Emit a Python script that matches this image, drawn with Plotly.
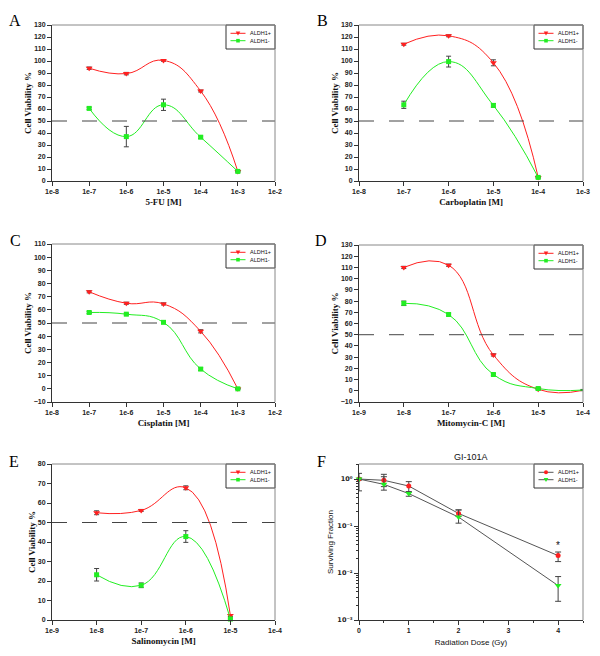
import plotly.graph_objects as go
import numpy as np

# ---------------- data ----------------
fu_x = [1e-7, 1e-6, 1e-5, 1e-4, 1e-3]
fu_pos = [94, 89.5, 100.5, 75, 8]
fu_pos_err = [1, 1, 0.7, 0.8, 0.5]
fu_neg = [60.5, 37, 63.5, 36.5, 8]
fu_neg_err = [1, 8.5, 4.7, 1, 0.5]

carbo_x = [1e-7, 1e-6, 1e-5, 1e-4]
carbo_pos = [114, 121, 98.5, 3]
carbo_pos_err = [0.8, 0.8, 2.5, 0.5]
carbo_neg = [63.5, 99.5, 63, 3]
carbo_neg_err = [3, 4.5, 1.5, 0.5]

cis_x = [1e-7, 1e-6, 1e-5, 1e-4, 1e-3]
cis_pos = [73.7, 65, 64.5, 43.7, 0]
cis_pos_err = [0.8, 0.8, 0.8, 1.2, 0.3]
cis_neg = [58, 56.7, 50.5, 15, 0]
cis_neg_err = [0.8, 0.6, 0.8, 1, 0.3]

mito_x = [1e-8, 1e-7, 1e-6, 1e-5, 1e-4]
mito_pos = [110, 112, 32, 1.3, 0.4]
mito_pos_err = [1, 1, 1, 0.5, 0.3]
mito_neg = [78, 68, 14.5, 2, 0.7]
mito_neg_err = [2, 1.2, 1, 1, 0.5]

sal_x = [1e-8, 1e-7, 1e-6, 1e-5]
sal_pos = [55, 56.2, 67.8, 2.3]
sal_pos_err = [1, 0.5, 1, 0.5]
sal_neg = [23.2, 17.8, 42.8, 0.5]
sal_neg_err = [3.2, 1.2, 3, 0.5]

rad_x = [0, 0.5, 1, 2, 4]
rad_pos = [1.0, 0.94, 0.71, 0.185, 0.0235]
rad_pos_up = [0.05, 0.32, 0.17, 0.035, 0.0045]
rad_pos_dn = [0.05, 0.25, 0.17, 0.025, 0.006]
rad_neg = [1.0, 0.77, 0.49, 0.155, 0.0054]
rad_neg_up = [0.32, 0.35, 0.04, 0.065, 0.003]
rad_neg_dn = [0.44, 0.19, 0.06, 0.04, 0.0029]
star_x = 4
star_y = 0.038

rad_tickvals = [1e-3, 1e-2, 1e-1, 1]
rad_ticktext = ["10\u207b\u00b3", "10\u207b\u00b2", "10\u207b\u00b9", "10\u2070"]

panel_letters = ["A", "B", "C", "D", "E", "F"]
x_titles = ["5-FU [M]", "Carboplatin [M]", "Cisplatin [M]", "Mitomycin-C [M]",
            "Salinomycin [M]", "Radiation Dose (Gy)"]
series_names = ["ALDH1+", "ALDH1-"]

# ---------------- layout helpers ----------------
W, H = 600, 656
def dx(px): return px / W
def dy(py): return 1 - py / H

panels = {
    1: dict(x=(52, 275), y=(25, 181)),
    2: dict(x=(359, 583), y=(25, 181)),
    3: dict(x=(52, 275), y=(244, 402)),
    4: dict(x=(359, 583), y=(245, 402)),
    5: dict(x=(52, 275), y=(464, 620)),
    6: dict(x=(359, 583), y=(464, 620)),
}

RED = "#ff2020"
GREEN = "#22ee22"
AXC = "#333333"
TICKFONT = dict(family="Liberation Sans, Arial", size=7, color="#222", weight="bold")
SUPFONT = dict(family="DejaVu Sans, Liberation Sans", size=6.5, color="#222", weight="bold")
SERIF_T = dict(family="Liberation Serif, Times New Roman", size=9, color="#111", weight="bold")
SANS_T = dict(family="Liberation Sans, Arial", size=8, color="#111")
SMOOTH = 1.3

fig = go.Figure()

def add_pair(i, xs, ypos, epos, yneg, eneg):
    ax = "" if i == 1 else str(i)
    fig.add_trace(go.Scatter(
        x=xs, y=ypos, name=series_names[0], mode="lines+markers",
        line=dict(color=RED, width=1, shape="spline", smoothing=SMOOTH),
        marker=dict(symbol="triangle-down", size=6, color=RED),
        error_y=dict(type="data", array=epos, color="#444", thickness=1, width=2.5),
        xaxis="x" + ax, yaxis="y" + ax, showlegend=False, cliponaxis=False))
    fig.add_trace(go.Scatter(
        x=xs, y=yneg, name=series_names[1], mode="lines+markers",
        line=dict(color=GREEN, width=1, shape="spline", smoothing=SMOOTH),
        marker=dict(symbol="square", size=5, color=GREEN),
        error_y=dict(type="data", array=eneg, color="#444", thickness=1, width=2.5),
        xaxis="x" + ax, yaxis="y" + ax, showlegend=False, cliponaxis=False))

add_pair(1, fu_x, fu_pos, fu_pos_err, fu_neg, fu_neg_err)
add_pair(2, carbo_x, carbo_pos, carbo_pos_err, carbo_neg, carbo_neg_err)
add_pair(3, cis_x, cis_pos, cis_pos_err, cis_neg, cis_neg_err)
add_pair(4, mito_x, mito_pos, mito_pos_err, mito_neg, mito_neg_err)
add_pair(5, sal_x, sal_pos, sal_pos_err, sal_neg, sal_neg_err)

# Panel F
fig.add_trace(go.Scatter(
    x=rad_x, y=rad_pos, name=series_names[0], mode="lines+markers",
    line=dict(color="#555", width=1),
    marker=dict(symbol="circle", size=5, color=RED),
    error_y=dict(type="data", symmetric=False, array=rad_pos_up, arrayminus=rad_pos_dn,
                 color="#444", thickness=1, width=3),
    xaxis="x6", yaxis="y6", showlegend=False, cliponaxis=False))
fig.add_trace(go.Scatter(
    x=rad_x, y=rad_neg, name=series_names[1], mode="lines+markers",
    line=dict(color="#555", width=1),
    marker=dict(symbol="triangle-down", size=6, color=GREEN),
    error_y=dict(type="data", symmetric=False, array=rad_neg_up, arrayminus=rad_neg_dn,
                 color="#444", thickness=1, width=3),
    xaxis="x6", yaxis="y6", showlegend=False, cliponaxis=False))

# axis ranges
log_x_ranges = {1: (-8, -2), 2: (-8, -3), 3: (-8, -2), 4: (-9, -4), 5: (-9, -4)}
y_ranges = {1: (0, 130, 10), 2: (0, 130, 10), 3: (-10, 110, 10), 4: (-10, 130, 10), 5: (0, 80, 10)}

layout = dict(
    width=W, height=H, margin=dict(l=0, r=0, t=0, b=0, autoexpand=False),
    paper_bgcolor="white", plot_bgcolor="white", showlegend=False,
    font=dict(family="Liberation Sans, Arial", color="#111"),
)
shapes = []
annotations = []

def P(px, py):
    return dx(px), dy(py)

def legend_box(i, line_colors, marker_colors, symbols):
    p = panels[i]
    L = p["x"][1] - 49
    T = p["y"][0]
    x0, y0 = P(L, T)
    x1, y1 = P(L + 49, T + 24)
    shapes.append(dict(type="rect", xref="paper", yref="paper", x0=x0, y0=y1, x1=x1, y1=y0,
                       line=dict(color="#333", width=1), fillcolor="white", layer="above"))
    rows = [T + 8.3, T + 15.7]
    for k in range(2):
        ry = rows[k]
        a, b = P(L + 4.5, ry)
        c, _ = P(L + 19.5, ry)
        shapes.append(dict(type="line", xref="paper", yref="paper", x0=a, x1=c, y0=b, y1=b,
                           line=dict(color=line_colors[k], width=1), layer="above"))
        cx = L + 12
        sym = symbols[k]
        if sym == "tri":
            pts = [P(cx - 2.3, ry - 1.8), P(cx + 2.3, ry - 1.8), P(cx, ry + 2.2)]
            path = "M {},{} L {},{} L {},{} Z".format(pts[0][0], pts[0][1], pts[1][0], pts[1][1],
                                                      pts[2][0], pts[2][1])
            shapes.append(dict(type="path", xref="paper", yref="paper", path=path,
                               fillcolor=marker_colors[k], line=dict(width=0), layer="above"))
        elif sym == "sq":
            q0 = P(cx - 1.8, ry - 1.8)
            q1 = P(cx + 1.8, ry + 1.8)
            shapes.append(dict(type="rect", xref="paper", yref="paper", x0=q0[0], x1=q1[0],
                               y0=q1[1], y1=q0[1], fillcolor=marker_colors[k],
                               line=dict(width=0), layer="above"))
        else:
            q0 = P(cx - 2, ry - 2)
            q1 = P(cx + 2, ry + 2)
            shapes.append(dict(type="circle", xref="paper", yref="paper", x0=q0[0], x1=q1[0],
                               y0=q1[1], y1=q0[1], fillcolor=marker_colors[k],
                               line=dict(width=0), layer="above"))
        tx, ty = P(L + 21.5, ry)
        annotations.append(dict(text=series_names[k], xref="paper", yref="paper", x=tx, y=ty,
                                xanchor="left", yanchor="middle", showarrow=False,
                                font=dict(family="Liberation Sans, Arial", size=5.5, color="#111")))

letter_pos = {1: (15, 21), 2: (322, 21), 3: (15, 240), 4: (321, 240), 5: (14, 461), 6: (321, 461)}

for i, p in panels.items():
    ax = "" if i == 1 else str(i)
    xd = [dx(p["x"][0]), dx(p["x"][1])]
    yd = [dy(p["y"][1]), dy(p["y"][0])]
    if i <= 5:
        lo, hi = log_x_ranges[i]
        tv = [10.0 ** k for k in range(lo, hi + 1)]
        tt = [f"1e{k}" for k in range(lo, hi + 1)]
        xa = dict(domain=xd, type="log", range=[lo, hi], tickvals=tv, ticktext=tt,
                  showline=True, linecolor=AXC, linewidth=1, ticks="outside", ticklen=4,
                  tickcolor=AXC, tickfont=TICKFONT, showgrid=False, zeroline=False,
                  automargin=False,
                  title=dict(text=x_titles[i - 1], font=SERIF_T, standoff=4),
                  anchor="y" + ax)
        y0, y1, dt = y_ranges[i]
        ya = dict(domain=yd, range=[y0, y1], dtick=dt, tick0=0,
                  showline=True, linecolor=AXC, linewidth=1, ticks="outside", ticklen=4,
                  tickcolor=AXC, tickfont=TICKFONT, showgrid=False, zeroline=False,
                  automargin=False,
                  title=dict(text="Cell Viability %", font=SERIF_T, standoff=0),
                  anchor="x" + ax)
        shapes.append(dict(type="line", xref=f"x{ax} domain", yref=f"y{ax}",
                           x0=0, x1=1, y0=50, y1=50,
                           line=dict(color="#444", width=1, dash="longdash")))
        legend_box(i, [RED, GREEN], [RED, GREEN], ["tri", "sq"])
    else:
        xa = dict(domain=xd, range=[0, 4.5], tickvals=[0, 1, 2, 3, 4],
                  showline=True, linecolor=AXC, linewidth=1, ticks="outside", ticklen=4,
                  tickcolor=AXC, tickfont=TICKFONT, showgrid=False, zeroline=False,
                  automargin=False,
                  minor=dict(ticks="outside", ticklen=2, dtick=0.5, tickcolor=AXC),
                  title=dict(text=x_titles[i - 1], font=SANS_T, standoff=5),
                  anchor="y6")
        ya = dict(domain=yd, type="log", range=[-3, 0.32],
                  tickvals=rad_tickvals, ticktext=rad_ticktext,
                  showline=True, linecolor=AXC, linewidth=1, ticks="outside", ticklen=4,
                  tickcolor=AXC, tickfont=SUPFONT, showgrid=False, zeroline=False,
                  automargin=False,
                  minor=dict(ticks="outside", ticklen=2, dtick="D1", tickcolor=AXC),
                  title=dict(text="Surviving Fraction", font=SANS_T, standoff=2),
                  anchor="x6")
        annotations.append(dict(text="GI-101A", xref="x6 domain", yref="y6 domain",
                                x=0.5, y=1.0, xanchor="center", yanchor="bottom", showarrow=False,
                                font=dict(family="Liberation Sans, Arial", size=9, color="#111")))
        annotations.append(dict(text="*", xref="x6", yref="y6", x=star_x,
                                y=np.log10(star_y), xanchor="center", yanchor="middle",
                                showarrow=False,
                                font=dict(family="Liberation Sans, Arial", size=10, color="#111")))
        legend_box(6, ["#555", "#555"], [RED, GREEN], ["circ", "tri"])
    layout["xaxis" + ax] = xa
    layout["yaxis" + ax] = ya
    shapes.append(dict(type="line", xref=f"x{ax} domain", yref=f"y{ax} domain",
                       x0=0, x1=1, y0=1, y1=1, line=dict(color="#888", width=1)))
    shapes.append(dict(type="line", xref=f"x{ax} domain", yref=f"y{ax} domain",
                       x0=1, x1=1, y0=0, y1=1, line=dict(color="#888", width=1)))
    lx, ly = letter_pos[i]
    annotations.append(dict(text=panel_letters[i - 1], xref="paper", yref="paper",
                            x=dx(lx), y=dy(ly), xanchor="center", yanchor="middle",
                            showarrow=False,
                            font=dict(family="Liberation Serif, Times New Roman", size=16, color="#000")))

layout["shapes"] = shapes
layout["annotations"] = annotations
fig.update_layout(**layout)
fig.write_html("out.html", config={"displayModeBar": False},
               post_script="document.body.style.margin='0';")
